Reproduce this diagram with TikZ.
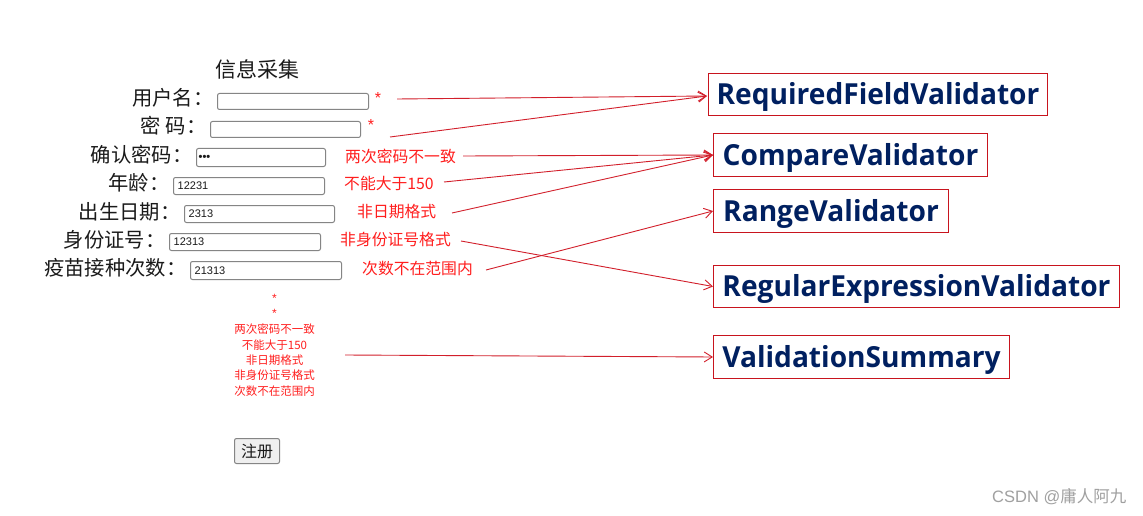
\documentclass[tikz,border=0pt]{standalone}
\usepackage{fontspec}
\setmainfont{Noto Sans CJK SC}
\newfontfamily\arialf{Liberation Sans}
\newfontfamily\valf[FakeStretch=0.97]{Open Sans}
\usetikzlibrary{arrows.meta}
\definecolor{labc}{HTML}{1A1A1A}
\definecolor{boxc}{HTML}{858585}
\definecolor{msgc}{HTML}{FF1E1E}
\definecolor{arrc}{HTML}{D21F2B}
\definecolor{vborder}{HTML}{C8141E}
\definecolor{navy}{HTML}{002060}
\definecolor{btnfill}{HTML}{EFEFEF}
\definecolor{wmc}{HTML}{A0A0A0}
\tikzset{
 lbl/.style={font=\fontsize{20.3}{20.3}\selectfont, text=labc, inner sep=0pt, anchor=east},
 inbox/.style={draw=boxc, line width=1pt, rounded corners=2pt, inner sep=0pt, anchor=north west},
 intext/.style={font=\arialf\fontsize{11}{11}\selectfont, text=labc, inner sep=0pt, anchor=west},
 msg/.style={font=\fontsize{15.8}{15.8}\selectfont, text=msgc, inner sep=0pt, anchor=west},
 star/.style={font=\arialf\fontsize{16}{16}\selectfont, text=msgc, inner sep=0pt},
 sumtxt/.style={font=\fontsize{11.5}{11.5}\selectfont, text=msgc, inner sep=0pt},
 valbox/.style={draw=vborder, line width=1pt, inner sep=0pt, anchor=north west,
   font=\valf\bfseries\fontsize{29}{29}\selectfont, text=navy, text height=22pt, text depth=2pt},
 link/.style={draw=arrc, line width=0.9pt, -{Straight Barb[length=8pt,width=10pt]}},
}
\begin{document}
\begin{tikzpicture}[x=1pt,y=-1pt]
\fill[white] (0,0) rectangle (1143,516);
\useasboundingbox (0,0) rectangle (1143,516);

% title
\node[font=\fontsize{21}{21}\selectfont, text=labc, inner sep=0pt] (title) at (257,69.5) {信息采集};

% input boxes
\node[inbox, minimum width=151pt, minimum height=16pt] (b1) at (217,93) {};
\node[inbox, minimum width=150pt, minimum height=16pt] (b2) at (210,121) {};
\node[inbox, minimum width=129pt, minimum height=18pt] (b3) at (196,148) {};
\node[inbox, minimum width=151pt, minimum height=17pt] (b4) at (173,177) {};
\node[inbox, minimum width=150pt, minimum height=17pt] (b5) at (184,205) {};
\node[inbox, minimum width=151pt, minimum height=17pt] (b6) at (169,233) {};
\node[inbox, minimum width=151pt, minimum height=18pt] (b7) at (190,261) {};

% labels
\node[lbl] (l1) at (213.5,98) {用户名：};
\node[lbl] (l2) at (206.5,126) {密 码：};
\node[lbl] (l3) at (192.5,155) {确认密码：};
\node[lbl] (l4) at (169.5,183) {年龄：};
\node[lbl] (l5) at (180.5,212) {出生日期：};
\node[lbl] (l6) at (165.5,240) {身份证号：};
\node[lbl] (l7) at (186.5,268) {疫苗接种次数：};

% input contents
\node[intext, font=\arialf\bfseries\fontsize{11}{11}\selectfont] (t3) at ([xshift=2.5pt]b3.west) {•••};
\node[intext] (t4) at ([xshift=4.5pt]b4.west) {12231};
\node[intext] (t5) at ([xshift=4.5pt]b5.west) {2313};
\node[intext] (t6) at ([xshift=4.5pt]b6.west) {12313};
\node[intext] (t7) at ([xshift=4.5pt]b7.west) {21313};

% stars and messages
\node[star] (st1) at (378,98) {*};
\node[star] (st2) at (371,125) {*};
\node[msg] (m3) at (345,156) {两次密码不一致};
\node[msg] (m4) at (344,183.5) {不能大于150};
\node[msg] (m5) at (357,212) {非日期格式};
\node[msg] (m6) at (340,240) {非身份证号格式};
\node[msg] (m7) at (362,268.5) {次数不在范围内};

% summary
\node[star, font=\arialf\fontsize{12}{12}\selectfont] (v1) at (274.5,298) {*};
\node[star, font=\arialf\fontsize{12}{12}\selectfont] (v2) at (274.5,313) {*};
\node[sumtxt] (v3) at (274.5,329.5) {两次密码不一致};
\node[sumtxt] (v4) at (274.5,345) {不能大于150};
\node[sumtxt] (v5) at (274.5,360) {非日期格式};
\node[sumtxt] (v6) at (274.5,375.5) {非身份证号格式};
\node[sumtxt] (v7) at (274.5,391) {次数不在范围内};

% button
\node[draw=boxc, line width=1pt, fill=btnfill, rounded corners=2pt, minimum width=45pt, minimum height=25pt,
  anchor=north west, font=\fontsize{16}{16}\selectfont, text=labc, inner sep=0pt] (btn) at (234,438) {注册};

% validators
\node[valbox, minimum width=339pt, minimum height=42pt] (rfv) at (708,73) {RequiredFieldValidator};
\node[valbox, minimum width=274pt, minimum height=43pt] (cv) at (713,133) {CompareValidator};
\node[valbox, minimum width=235pt, minimum height=43pt] (rv) at (713,189) {RangeValidator};
\node[valbox, minimum width=406pt, minimum height=42pt] (rev) at (713,265) {RegularExpressionValidator};
\node[valbox, minimum width=296pt, minimum height=43pt] (vs) at (713,335) {ValidationSummary};

% connector start points
\coordinate (s1) at (397,99);
\coordinate (s2) at (390,137);
\coordinate (s3) at (463,156);
\coordinate (s4) at (444,182);
\coordinate (s5) at (452,213);
\coordinate (s6) at (461,241);
\coordinate (s7) at (486,270);
\coordinate (s8) at (345,355);

\draw[link] (s1) -- ([xshift=-1pt,yshift=-1.5pt]rfv.west);
\draw[link] (s2) -- ([xshift=-1pt,yshift=-1.5pt]rfv.west);
\draw[link] (s3) -- (cv.west);
\draw[link] (s4) -- (cv.west);
\draw[link] (s5) -- (cv.west);
\draw[link] (s6) -- (rev.west);
\draw[link] (s7) -- (rv.west);
\draw[link] (s8) -- (vs.west);

% watermark
\node[font=\fontsize{16.5}{16.5}\selectfont, text=wmc, anchor=west, inner sep=0pt] (wm) at (992,497) {{\arialf CSDN @}庸人阿九};
\end{tikzpicture}
\end{document}
